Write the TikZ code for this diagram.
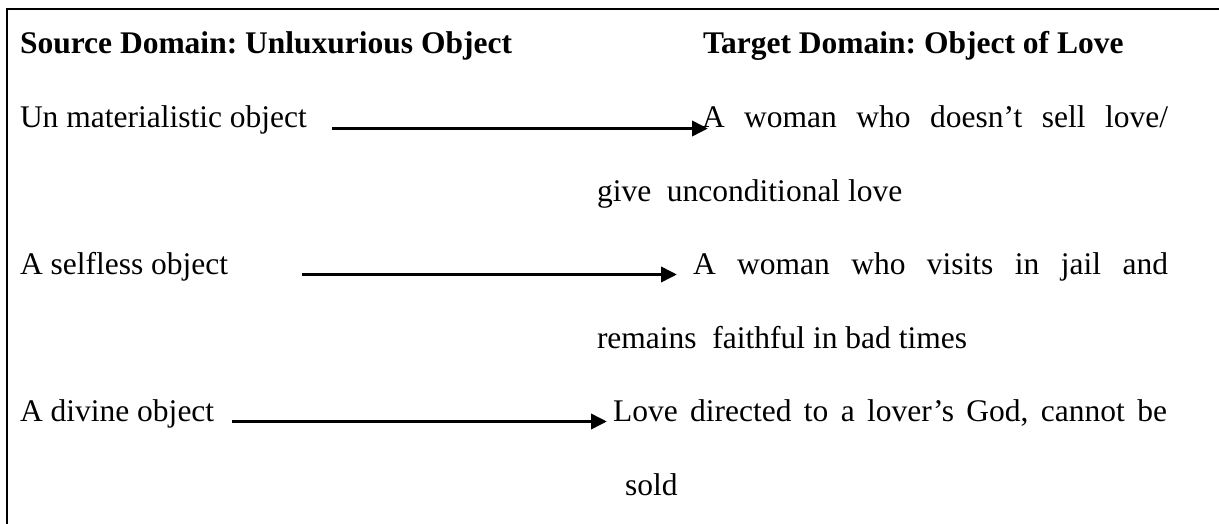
\documentclass[tikz,border=0pt]{standalone}
\usepackage{fontspec}
\setmainfont{Liberation Serif}
\usetikzlibrary{arrows.meta}
\frenchspacing
\begin{document}
\begin{tikzpicture}[x=1pt,y=-1pt,
  txt/.style={anchor=base west,inner sep=0pt,outer sep=0pt,font=\fontsize{31.5}{38}\selectfont},
  head/.style={txt,font=\fontsize{31.5}{38}\selectfont\bfseries},
  maparrow/.style={line width=3.6pt,-{Triangle[length=16pt,width=15pt]}},
  frame/.style={line width=2pt}]
\useasboundingbox (0,0) rectangle (1219,524);
% open frame: top and left edges only
\draw[frame] (1219,9) -- (7,9) -- (7,524);

% column headings
\node[head] (hsrc) at (20,54) {Source Domain: Unluxurious Object};
\node[head] (htgt) at (703,54) {Target Domain: Object of Love};

% mapping 1
\node[txt] (s1) at (20,127.5) {Un materialistic object};
\node[txt] (t1) at (702,127.5) {\makebox[466pt][s]{A woman who doesn’t sell love/}};
\node[txt] (t1b) at (597,201) {give\ \ unconditional love};
\coordinate (a1s) at (332,128.5);
\coordinate (a1e) at (708,128.5);
\draw[maparrow] (a1s) -- (a1e);

% mapping 2
\node[txt] (s2) at (20,274.5) {A selfless object};
\node[txt] (t2) at (693,274.5) {\makebox[475pt][s]{A woman who visits in jail and}};
\node[txt] (t2b) at (597,348) {remains\ \ faithful in bad times};
\coordinate (a2s) at (302,274.5);
\coordinate (a2e) at (677,274.5);
\draw[maparrow] (a2s) -- (a2e);

% mapping 3
\node[txt] (s3) at (20,421.5) {A divine object};
\node[txt] (t3) at (613,421.5) {\makebox[554pt][s]{Love directed to a lover’s God, cannot be}};
\node[txt] (t3b) at (625,495) {sold};
\coordinate (a3s) at (232,421.5);
\coordinate (a3e) at (607,421.5);
\draw[maparrow] (a3s) -- (a3e);
\end{tikzpicture}
\end{document}
